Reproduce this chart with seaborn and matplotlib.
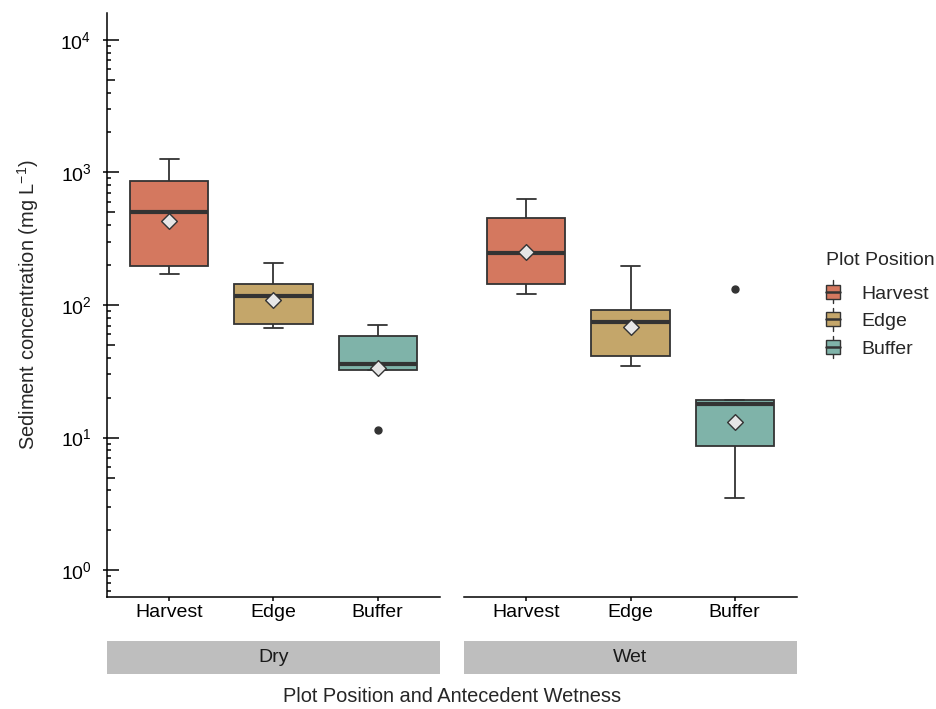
import numpy as np
import pandas as pd
import matplotlib
matplotlib.use("Agg")
import matplotlib.pyplot as plt
import seaborn as sns
from matplotlib.legend_handler import HandlerBase
from matplotlib.patches import Rectangle, Patch
from matplotlib.lines import Line2D
from matplotlib.ticker import NullLocator, FixedLocator

# ---------------- data ----------------
wetness = ["Dry", "Wet"]
positions = ["Harvest", "Edge", "Buffer"]
# five values per box: [low end, Q1, median, Q3, high end]; the low/high ends are
# whisker ends or single outliers
dry_harvest = [171, 197, 504, 863, 1260]
dry_edge = [67, 71.5, 117.5, 145, 208]
dry_buffer = [11.5, 32.5, 35.7, 58.6, 71]
wet_harvest = [122, 143, 248, 454, 631]
wet_edge = [34.7, 41.2, 74.8, 92, 196]
wet_buffer = [3.48, 8.58, 17.8, 19.2, 133]
dry_means = [430, 109, 33.3]
wet_means = [251, 68.6, 13.0]
y_ticks = [1, 10, 100, 1000, 10000]

colors = ["#D4785F", "#C4A66A", "#7FB3A9"]
line_col = "#333333"

records = []
for wet, groups in (("Dry", [dry_harvest, dry_edge, dry_buffer]),
                    ("Wet", [wet_harvest, wet_edge, wet_buffer])):
    for pos, vals in zip(positions, groups):
        for v in vals:
            records.append((wet, pos, v))
df = pd.DataFrame(records, columns=["Wetness", "Position", "Conc"])
means_df = pd.DataFrame({"Wetness": ["Dry"] * 3 + ["Wet"] * 3,
                         "Position": positions * 2,
                         "Mean": dry_means + wet_means})

# ---------------- style ----------------
sns.set_theme(style="ticks")
plt.rcParams['font.family'] = ['Liberation Sans', 'DejaVu Sans']
plt.rcParams['mathtext.fontset'] = 'custom'
plt.rcParams['mathtext.rm'] = 'Liberation Sans'
plt.rcParams['mathtext.it'] = 'Liberation Sans:italic'
plt.rcParams['mathtext.bf'] = 'Liberation Sans:bold'
plt.rcParams['mathtext.sf'] = 'Liberation Sans'
plt.rcParams['axes.linewidth'] = 1.1
plt.rcParams['axes.edgecolor'] = "black"

W, H = 937, 709
fig = plt.figure(figsize=(W / 100, H / 100), dpi=100)


def frac(x0, y0, x1, y1):
    return [x0 / W, 1 - y1 / H, (x1 - x0) / W, (y1 - y0) / H]


ax1 = fig.add_axes(frac(107, 13.3, 440, 596.7))
ax2 = fig.add_axes(frac(464, 13.3, 797, 596.7))

TICK_FS = 14
for ax, wet in zip((ax1, ax2), wetness):
    sub = df[df.Wetness == wet]
    sns.boxplot(data=sub, x="Position", y="Conc", hue="Position",
                order=positions, hue_order=positions, palette=colors,
                saturation=1, log_scale=True, width=0.75, whis=1.5,
                linecolor=line_col, linewidth=1.3,
                medianprops=dict(color=line_col, linewidth=3.0),
                capwidths=0.19,
                flierprops=dict(marker="o", markerfacecolor=line_col,
                                markeredgecolor=line_col, markersize=5),
                legend=False, ax=ax)
    msub = means_df[means_df.Wetness == wet]
    sns.stripplot(data=msub, x="Position", y="Mean", order=positions,
                  jitter=False, marker="D", size=8, color="#E6E6E6",
                  edgecolor=line_col, linewidth=1.0, ax=ax, zorder=10)
    ax.set_xlim(-0.6, 2.6)
    ax.set_ylim(10 ** -0.2, 10 ** 4.2)
    ax.set_xlabel("")
    ax.set_ylabel("")
    ax.yaxis.set_minor_locator(NullLocator())
    ax.tick_params(axis="x", length=3.2, width=1.1, color="black",
                   labelsize=TICK_FS, labelcolor="black", pad=2)
    ax.tick_params(axis="y", length=3.2, width=1.1, color="black",
                   labelsize=TICK_FS, labelcolor="black", pad=8)
    for s in ("top", "right"):
        ax.spines[s].set_visible(False)

ax1.yaxis.set_major_locator(FixedLocator(y_ticks))
ax2.spines["left"].set_visible(False)
ax2.tick_params(axis="y", left=False, labelleft=False)

# inside log ticks (annotation_logticks style) on the left panel
ax_w = 333.0
for dec in range(-1, 5):
    for k in range(1, 10):
        val = k * 10.0 ** dec
        if val < 10 ** -0.2 or val > 10 ** 4.2:
            continue
        L = 12 if k == 1 else (8 if k == 5 else 4)
        ax1.plot([0, L / ax_w], [val, val], transform=ax1.get_yaxis_transform(),
                 color="black", lw=1.1, clip_on=False, solid_capstyle="butt")

# facet strips at the bottom
for (x0, x1), lab in zip(((107, 440), (464, 797)), wetness):
    fig.add_artist(Rectangle((x0 / W, 1 - 674 / H), (x1 - x0) / W, 33.3 / H,
                             transform=fig.transFigure, facecolor="#BEBEBE",
                             edgecolor="none"))
    fig.text((x0 + x1) / 2 / W, 1 - 658 / H, lab, ha="center", va="center",
             fontsize=TICK_FS, color="#1A1A1A")

fig.text(452 / W, 1 - 697 / H, "Plot Position and Antecedent Wetness",
         ha="center", va="center", fontsize=14.4)
fig.text(28 / W, 1 - 305 / H, "Sediment concentration (mg L$^{-1}$)",
         ha="center", va="center", rotation=90, fontsize=14.4)


# legend with box-shaped keys
class BoxKeyHandler(HandlerBase):
    def create_artists(self, legend, orig_handle, xdescent, ydescent,
                       width, height, fontsize, trans):
        fc = orig_handle.get_facecolor()
        x0, y0 = -xdescent, -ydescent
        cx = x0 + width / 2
        bh = height
        by = y0
        ext = height * 0.32
        box = Rectangle((x0, by), width, bh, facecolor=fc, edgecolor=line_col,
                        lw=1.0, transform=trans)
        med = Line2D([x0, x0 + width], [by + bh / 2] * 2, color=line_col,
                     lw=1.8, transform=trans)
        w1 = Line2D([cx, cx], [by + bh, by + bh + ext], color=line_col, lw=1.0,
                    transform=trans)
        w2 = Line2D([cx, cx], [by - ext, by], color=line_col, lw=1.0,
                    transform=trans)
        return [w1, w2, box, med]


handles = [Patch(facecolor=c, edgecolor=line_col) for c in colors]
leg = fig.legend(handles=handles, labels=positions, title="Plot Position",
                 handler_map={Patch: BoxKeyHandler()},
                 loc="upper left", bbox_to_anchor=(822 / W, 1 - 248 / H),
                 borderaxespad=0.0,
                 frameon=False, fontsize=14, title_fontsize=14,
                 handlelength=0.75, handleheight=0.72, handletextpad=1.05,
                 labelspacing=0.51, alignment="left", borderpad=0.2)
# extra gap between the legend title and its entries
leg._legend_box.sep = 0.51 * 14 + 4.3

fig.savefig("out.png", dpi=100)
